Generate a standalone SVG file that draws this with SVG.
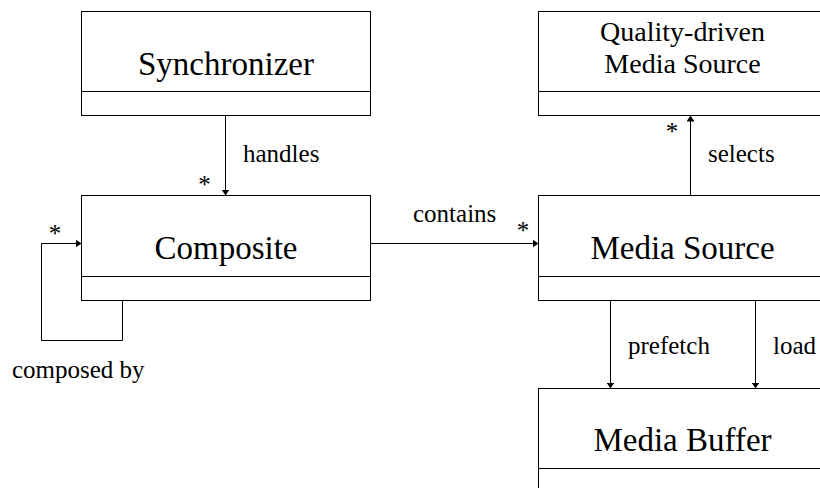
<svg xmlns="http://www.w3.org/2000/svg" width="820" height="488" viewBox="0 0 820 488">
<defs>
<marker id="ah" viewBox="0 0 10 10" refX="10" refY="5" markerWidth="6" markerHeight="8" markerUnits="userSpaceOnUse" orient="auto" preserveAspectRatio="none">
<path d="M0,0 L10,5 L0,10 Z" fill="#000"/>
</marker>
</defs>
<rect width="820" height="488" fill="#fff"/>
<g fill="#fff" stroke="#000" stroke-width="1">
<g id="synchronizer">
<rect x="81.5" y="11.5" width="289" height="104"/>
<line x1="81.5" y1="91.5" x2="370.5" y2="91.5"/>
</g>
<g id="composite">
<rect x="81.5" y="195.5" width="289" height="105"/>
<line x1="81.5" y1="276.5" x2="370.5" y2="276.5"/>
</g>
<g id="quality">
<rect x="538.5" y="11.5" width="289" height="104"/>
<line x1="538.5" y1="91.5" x2="827.5" y2="91.5"/>
</g>
<g id="mediasource">
<rect x="538.5" y="195.5" width="289" height="105"/>
<line x1="538.5" y1="276.5" x2="827.5" y2="276.5"/>
</g>
<g id="mediabuffer">
<rect x="538.5" y="388.5" width="289" height="110"/>
<line x1="538.5" y1="468.5" x2="827.5" y2="468.5"/>
</g>
</g>
<g id="node-labels" font-family="Liberation Serif" fill="#000" text-anchor="middle" font-size="33">
<text x="226" y="75">Synchronizer</text>
<text x="226" y="259">Composite</text>
<text x="682.5" y="41" font-size="28">Quality-driven</text>
<text x="682.5" y="73" font-size="28">Media Source</text>
<text x="682.5" y="259">Media Source</text>
<text x="682.5" y="451">Media Buffer</text>
</g>
<g id="connectors">
<g fill="none" stroke="#000" stroke-width="1" marker-end="url(#ah)">
<path d="M225.5,115.5 V195.5"/>
<path d="M122.5,300.5 V340.5 H41.5 V243.5 H81.5"/>
<path d="M370.5,243.5 H538.5"/>
<path d="M690.5,195.5 V115.5"/>
<path d="M610.5,300.5 V388.5"/>
<path d="M755.5,300.5 V388.5"/>
</g>
<g font-family="Liberation Serif" font-size="25" fill="#000">
<text x="243" y="162">handles</text>
<text x="12" y="378">composed by</text>
<text x="413" y="222">contains</text>
<text x="708" y="162">selects</text>
<text x="628" y="354">prefetch</text>
<text x="773" y="354">load</text>
<g text-anchor="middle">
<text x="204.5" y="193">*</text>
<text x="55" y="242">*</text>
<text x="523" y="239">*</text>
<text x="672" y="140">*</text>
</g>
</g>
</g>
</svg>
